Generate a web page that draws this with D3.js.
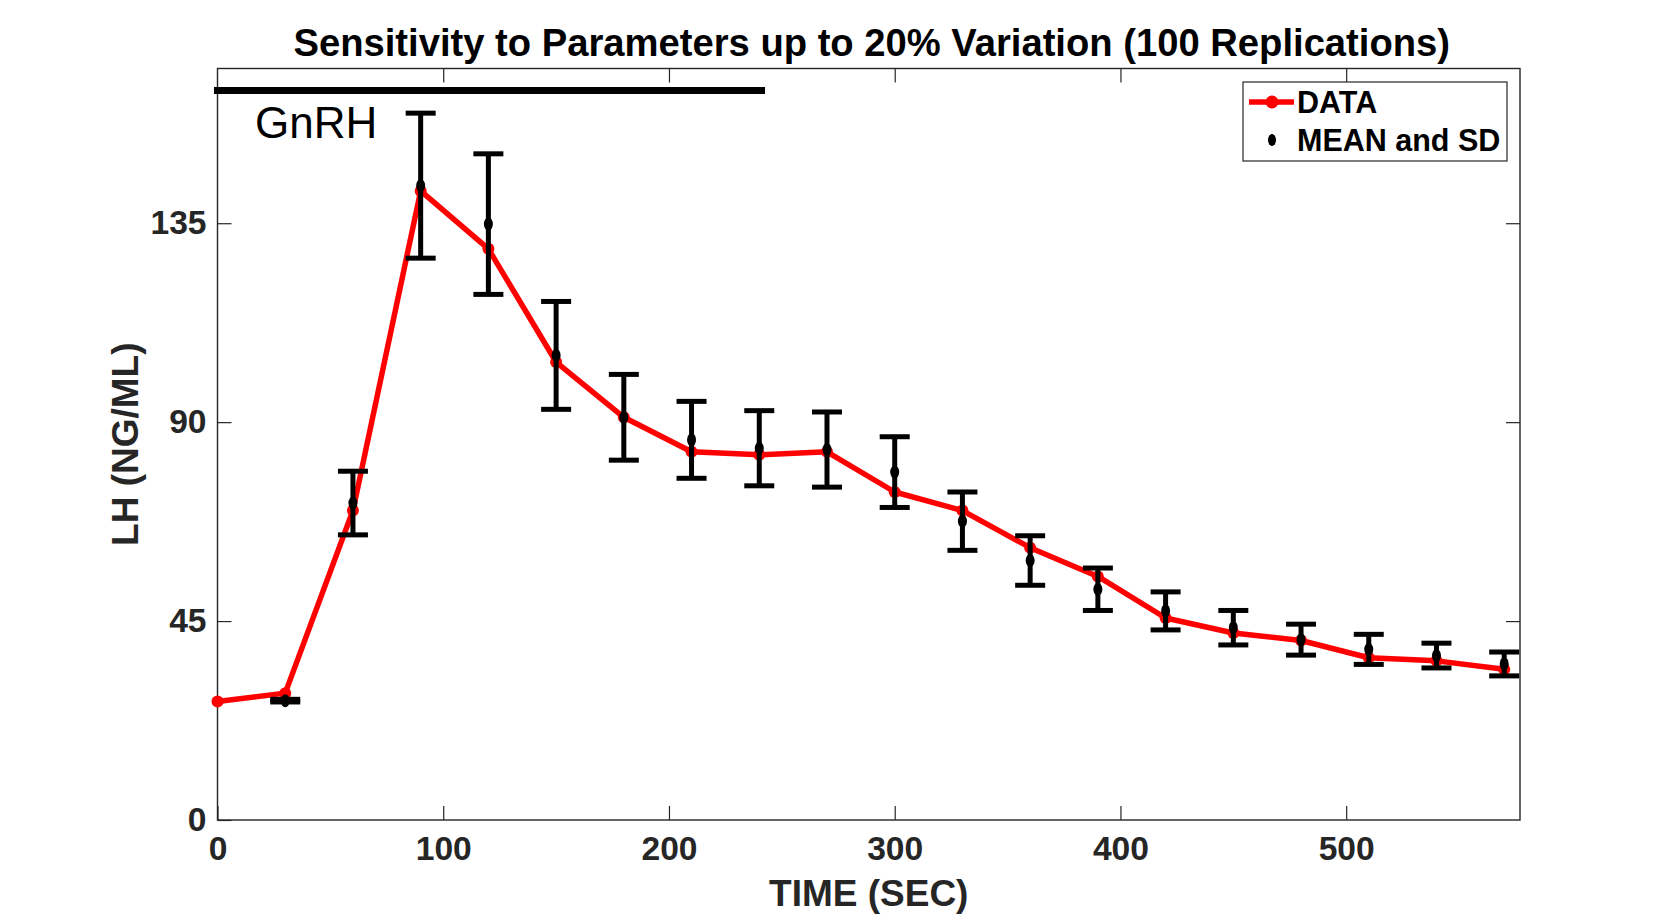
<!DOCTYPE html>
<html>
<head>
<meta charset="utf-8">
<script src="https://cdn.jsdelivr.net/npm/d3@7"></script>
<style>
  body { margin: 0; background: #fff; }
  text { font-family: "Liberation Sans", Arial, sans-serif; }
</style>
</head>
<body>
<div id="chart"></div>
<script>
// red DATA curve
const times = [0, 30, 60, 90, 120, 150, 180, 210, 240, 270, 300, 330, 360, 390, 420, 450, 480, 510, 540, 570];
const dataLH = [26.8, 28.7, 70.0, 142.3, 129.2, 103.6, 91.1, 83.3, 82.6, 83.3, 74.2, 70.0, 61.6, 55.1, 45.7, 42.3, 40.6, 36.7, 36.0, 34.1];

// MEAN and SD of the 100 replications
const meanTimes = [30, 60, 90, 120, 150, 180, 210, 240, 270, 300, 330, 360, 390, 420, 450, 480, 510, 540, 570];
const meanLH = [27.0, 71.7, 143.5, 134.8, 105.1, 91.1, 86.0, 84.1, 83.8, 78.7, 67.6, 58.7, 52.2, 47.3, 43.5, 40.8, 38.6, 37.2, 35.3];
const sdLH = [0.3, 7.2, 16.4, 15.9, 12.2, 9.7, 8.7, 8.5, 8.5, 8.0, 6.6, 5.6, 4.8, 4.3, 3.9, 3.5, 3.4, 2.8, 2.7];

// GnRH bar (time span) and its level
const gnrhSpan = [0, 241];
const gnrhLevel = 165;

const xTicks = [0, 100, 200, 300, 400, 500];
const yTicks = [0, 45, 90, 135];

let width = 1680, height = 921;
let axisColor = "#262626";

let svg = d3.select('#chart').append('svg')
  .attr('width', width)
  .attr('height', height);

let x = d3.scaleLinear().domain([0, 577]).range([217.5, 1520]);
let y = d3.scaleLinear().domain([0, 170]).range([820, 68.5]);

// axes box
svg.append("rect")
  .attr("x", x(0)).attr("y", y(170))
  .attr("width", x(577) - x(0)).attr("height", y(0) - y(170))
  .attr("fill", "none")
  .attr("stroke", axisColor)
  .attr("stroke-width", 1.4);

// bottom + top ticks
svg.append("g")
  .attr("transform", "translate(0," + y(0) + ")")
  .call(d3.axisBottom(x).tickValues(xTicks).tickSizeInner(-14).tickSizeOuter(0).tickPadding(16));
svg.append("g")
  .attr("transform", "translate(0," + y(170) + ")")
  .call(d3.axisTop(x).tickValues(xTicks.filter(d => d > 0)).tickSizeInner(-14).tickSizeOuter(0).tickFormat(""));

// left + right ticks
svg.append("g")
  .attr("transform", "translate(" + x(0) + ",0)")
  .call(d3.axisLeft(y).tickValues(yTicks).tickSizeInner(-14).tickSizeOuter(0).tickPadding(11));
svg.append("g")
  .attr("transform", "translate(" + x(577) + ",0)")
  .call(d3.axisRight(y).tickValues(yTicks.filter(d => d > 0)).tickSizeInner(-14).tickSizeOuter(0).tickFormat(""));

svg.selectAll(".domain").remove();
svg.selectAll(".tick line").attr("stroke", axisColor).attr("stroke-width", 1.2);
svg.selectAll(".tick text")
  .attr("fill", axisColor)
  .style("font-size", "33.6px")
  .style("font-weight", "bold");

// title
svg.append("text")
  .attr("x", (x(0) + x(577)) / 2 + 3)
  .attr("y", 56)
  .attr("text-anchor", "middle")
  .style("font-size", "38.2px")
  .style("font-weight", "bold")
  .attr("fill", "#000")
  .text("Sensitivity to Parameters up to 20% Variation (100 Replications)");

// axis labels
svg.append("text")
  .attr("x", (x(0) + x(577)) / 2)
  .attr("y", 906)
  .attr("text-anchor", "middle")
  .style("font-size", "37px")
  .style("font-weight", "bold")
  .attr("fill", axisColor)
  .text("TIME (SEC)");

svg.append("text")
  .attr("transform", "translate(138," + (y(0) + y(170)) / 2 + ") rotate(-90)")
  .attr("text-anchor", "middle")
  .style("font-size", "37px")
  .style("font-weight", "bold")
  .attr("fill", axisColor)
  .text("LH (NG/ML)");

// GnRH bar
svg.append("line")
  .attr("x1", x(gnrhSpan[0])).attr("x2", x(gnrhSpan[1]))
  .attr("y1", y(gnrhLevel)).attr("y2", y(gnrhLevel))
  .attr("stroke", "#000")
  .attr("stroke-width", 7)
  .attr("stroke-linecap", "square");

svg.append("text")
  .attr("x", x(16.6))
  .attr("y", y(154.2))
  .style("font-size", "44px")
  .attr("fill", "#000")
  .text("GnRH");

// red data line
let line = d3.line()
  .x((d, i) => x(times[i]))
  .y(d => y(d));

svg.append("path")
  .datum(dataLH)
  .attr("d", line)
  .attr("fill", "none")
  .attr("stroke", "#ff0000")
  .attr("stroke-width", 5.5)
  .attr("stroke-linejoin", "round");

svg.selectAll(".dot")
  .data(dataLH)
  .enter().append("circle")
  .attr("class", "dot")
  .attr("cx", (d, i) => x(times[i]))
  .attr("cy", d => y(d))
  .attr("r", 6)
  .attr("fill", "#ff0000");

// error bars
let eb = svg.selectAll(".eb")
  .data(meanLH)
  .enter().append("g")
  .attr("class", "eb");

eb.append("line")
  .attr("x1", (d, i) => x(meanTimes[i])).attr("x2", (d, i) => x(meanTimes[i]))
  .attr("y1", (d, i) => y(d - sdLH[i])).attr("y2", (d, i) => y(d + sdLH[i]))
  .attr("stroke", "#000").attr("stroke-width", 5);

[-1, 1].forEach(function (s) {
  eb.append("line")
    .attr("x1", (d, i) => x(meanTimes[i]) - 15).attr("x2", (d, i) => x(meanTimes[i]) + 15)
    .attr("y1", (d, i) => y(d + s * sdLH[i])).attr("y2", (d, i) => y(d + s * sdLH[i]))
    .attr("stroke", "#000").attr("stroke-width", 5);
});

eb.append("ellipse")
  .attr("cx", (d, i) => x(meanTimes[i]))
  .attr("cy", d => y(d))
  .attr("rx", 4.5).attr("ry", 6.5)
  .attr("fill", "#000");

// legend
let legend = svg.append("g");
legend.append("rect")
  .attr("x", 1243).attr("y", 82)
  .attr("width", 264).attr("height", 79)
  .attr("fill", "#fff")
  .attr("stroke", axisColor)
  .attr("stroke-width", 1.2);

legend.append("line")
  .attr("x1", 1249).attr("x2", 1294)
  .attr("y1", 102).attr("y2", 102)
  .attr("stroke", "#ff0000").attr("stroke-width", 5.5);
legend.append("circle")
  .attr("cx", 1272).attr("cy", 102).attr("r", 6.5)
  .attr("fill", "#ff0000");
legend.append("text")
  .attr("x", 1297).attr("y", 113)
  .style("font-size", "30.5px").style("font-weight", "bold")
  .text("DATA");

legend.append("ellipse")
  .attr("cx", 1272).attr("cy", 140).attr("rx", 4).attr("ry", 6)
  .attr("fill", "#000");
legend.append("text")
  .attr("x", 1297).attr("y", 151)
  .style("font-size", "30.5px").style("font-weight", "bold")
  .text("MEAN and SD");
</script>
</body>
</html>
